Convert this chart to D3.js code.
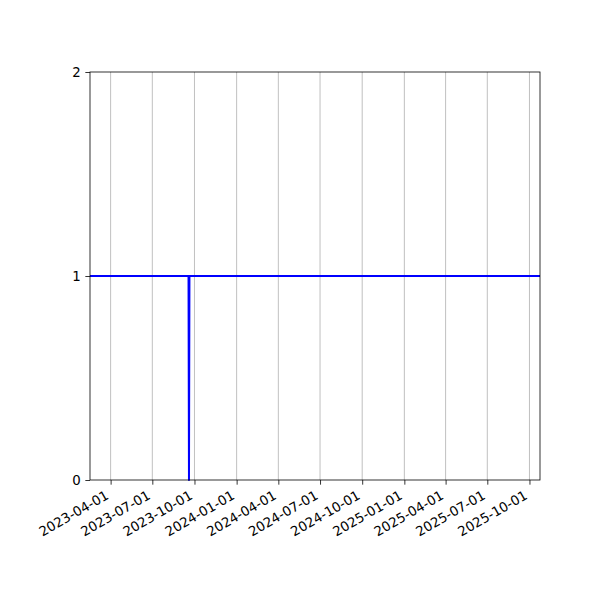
<!DOCTYPE html>
<html>
<head>
<meta charset="utf-8">
<script src="https://cdn.jsdelivr.net/npm/d3@7"></script>
<style>
  body { margin: 0; background: #fff; }
  text { font-family: "DejaVu Sans", sans-serif; font-size: 13.33px; fill: #000; }
</style>
</head>
<body>
<svg id="chart" width="600" height="600"></svg>
<script>
// Data
const dates = ["2023-02-15", "2023-09-18", "2023-09-19", "2023-09-20", "2025-10-24"];
const values = [1, 1, 0, 1, 1];
const xTickLabels = ["2023-04-01", "2023-07-01", "2023-10-01", "2024-01-01", "2024-04-01",
  "2024-07-01", "2024-10-01", "2025-01-01", "2025-04-01", "2025-07-01", "2025-10-01"];
const yTickLabels = [0, 1, 2];
const xDomain = ["2023-02-15", "2025-10-24"];
const yDomain = [0, 2];

const parse = d3.utcParse("%Y-%m-%d");
const fmt = d3.utcFormat("%Y-%m-%d");
const svg = d3.select("#chart");
const L = 90, R = 540, T = 72, B = 480;

const x = d3.scaleUtc().domain(xDomain.map(parse)).range([L, R]);
const y = d3.scaleLinear().domain(yDomain).range([B, T]);

// Vertical gridlines
svg.append("g").selectAll("line").data(xTickLabels.map(parse)).join("line")
  .attr("x1", d => x(d)).attr("x2", d => x(d))
  .attr("y1", T).attr("y2", B)
  .attr("stroke", "#b0b0b0").attr("stroke-width", 0.8);

// Line
const pts = dates.map((d, i) => [parse(d), values[i]]);
svg.append("path").datum(pts)
  .attr("fill", "none").attr("stroke", "#0000ff").attr("stroke-width", 2)
  .attr("stroke-linejoin", "round")
  .attr("d", d3.line().x(d => x(d[0])).y(d => y(d[1])));

// X axis
const xAxis = d3.axisBottom(x).tickValues(xTickLabels.map(parse)).tickFormat(fmt)
  .tickSize(4.67).tickSizeOuter(0);
const gx = svg.append("g").attr("transform", `translate(0,${B})`).call(xAxis);
gx.select(".domain").remove();
gx.selectAll(".tick line").attr("stroke", "#000").attr("stroke-width", 0.8);
gx.selectAll(".tick text")
  .attr("y", 0).attr("dy", null)
  .attr("font-family", "DejaVu Sans").attr("font-size", 13.33)
  .attr("text-anchor", "end")
  .attr("transform", "translate(-1.5,18) rotate(-30)");

// Y axis
const yAxis = d3.axisLeft(y).tickValues(yTickLabels).tickFormat(d3.format("d"))
  .tickSize(4.67).tickPadding(4.67).tickSizeOuter(0);
const gy = svg.append("g").attr("transform", `translate(${L},0)`).call(yAxis);
gy.select(".domain").remove();
gy.selectAll(".tick line").attr("stroke", "#000").attr("stroke-width", 0.8);
gy.selectAll(".tick text").attr("font-family", "DejaVu Sans").attr("font-size", 13.33);

// Frame
svg.append("rect").attr("x", L).attr("y", T).attr("width", R - L).attr("height", B - T)
  .attr("fill", "none").attr("stroke", "#000").attr("stroke-width", 0.8);
</script>
</body>
</html>
